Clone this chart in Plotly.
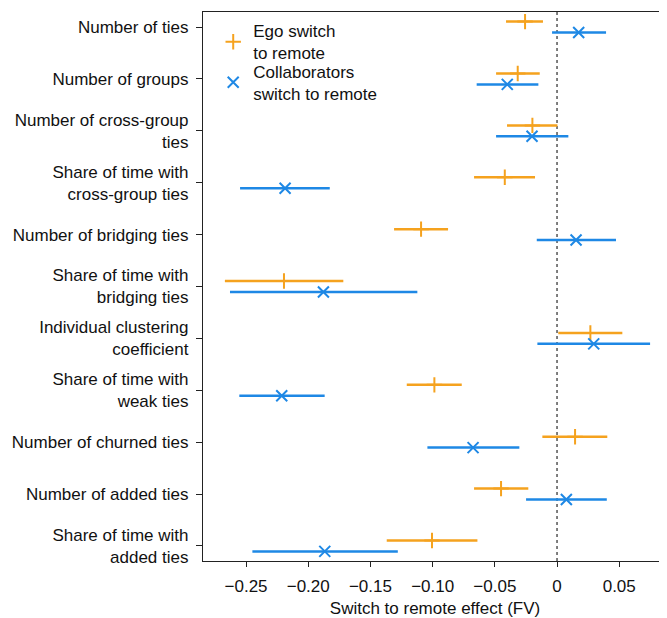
import plotly.graph_objects as go

categories = [
    "Number of ties",
    "Number of groups",
    "Number of cross-group<br>ties",
    "Share of time with<br>cross-group ties",
    "Number of bridging ties",
    "Share of time with<br>bridging ties",
    "Individual clustering<br>coefficient",
    "Share of time with<br>weak ties",
    "Number of churned ties",
    "Number of added ties",
    "Share of time with<br>added ties",
]

ego_est = [-0.0257, -0.0316, -0.0198, -0.0420, -0.1093, -0.2195, 0.0268, -0.0986, 0.0145, -0.0450, -0.1005]
ego_low = [-0.0410, -0.0490, -0.0402, -0.0667, -0.1310, -0.2670, 0.0010, -0.1208, -0.0118, -0.0667, -0.1369]
ego_high = [-0.0113, -0.0139, 0.0003, -0.0177, -0.0876, -0.1718, 0.0525, -0.0766, 0.0404, -0.0231, -0.0640]

col_est = [0.0174, -0.0400, -0.0201, -0.2186, 0.0153, -0.1878, 0.0295, -0.2213, -0.0675, 0.0075, -0.1867]
col_low = [-0.0040, -0.0646, -0.0490, -0.2548, -0.0163, -0.2629, -0.0158, -0.2554, -0.1042, -0.0249, -0.2449]
col_high = [0.0394, -0.0150, 0.0091, -0.1827, 0.0474, -0.1123, 0.0748, -0.1868, -0.0303, 0.0400, -0.1280]

x_tickvals = [-0.25, -0.20, -0.15, -0.10, -0.05, 0, 0.05]
x_ticktext = ["\u22120.25", "\u22120.20", "\u22120.15", "\u22120.10", "\u22120.05", "0", "0.05"]

ORANGE = "#F5A21E"
BLUE = "#1E88E5"
FONT = "Liberation Sans, Arial, sans-serif"

idx = list(range(len(categories)))
off = 0.105

fig = go.Figure()
fig.add_trace(go.Scatter(
    x=ego_est, y=[i - off for i in idx], mode="markers",
    name="Ego switch<br>to remote", legend="legend",
    marker=dict(symbol="cross-thin", size=11, color=ORANGE, line=dict(color=ORANGE, width=2)),
    error_x=dict(type="data", symmetric=False,
                 array=[h - e for h, e in zip(ego_high, ego_est)],
                 arrayminus=[e - l for e, l in zip(ego_est, ego_low)],
                 color=ORANGE, thickness=2.5, width=0),
))
fig.add_trace(go.Scatter(
    x=col_est, y=[i + off for i in idx], mode="markers",
    name="Collaborators<br>switch to remote", legend="legend2",
    marker=dict(symbol="x-thin", size=11, color=BLUE, line=dict(color=BLUE, width=2)),
    error_x=dict(type="data", symmetric=False,
                 array=[h - e for h, e in zip(col_high, col_est)],
                 arrayminus=[e - l for e, l in zip(col_est, col_low)],
                 color=BLUE, thickness=2.5, width=0),
))

fig.add_shape(type="line", xref="x", yref="paper", x0=0, x1=0, y0=0, y1=1,
              line=dict(color="#555555", width=1.5, dash="dot"), layer="below")

legend_common = dict(xanchor="left", yanchor="top", bgcolor="rgba(0,0,0,0)", font=dict(size=17))

# page body has an 8px default margin; compensate so the plot lands where the reference has it
fig.update_layout(
    width=659, height=610,
    margin=dict(l=195, r=0, t=4, b=54),
    paper_bgcolor="white", plot_bgcolor="white",
    font=dict(family=FONT, size=17, color="#111111"),
    showlegend=True,
    legend=dict(x=0.022, y=0.998, **legend_common),
    legend2=dict(x=0.022, y=0.924, **legend_common),
    xaxis=dict(range=[-0.2846, 0.0884], tickvals=x_tickvals, ticktext=x_ticktext,
               showgrid=False, zeroline=False, showline=True, linecolor="#222222",
               linewidth=1.2, mirror=True, ticks="outside", ticklen=5, tickcolor="#222222",
               ticklabelstandoff=4,
               title=dict(text="Switch to remote effect (FV)", font=dict(size=17), standoff=11)),
    yaxis=dict(range=[10.29, -0.29], tickvals=idx, ticktext=categories,
               showgrid=False, zeroline=False, showline=True, linecolor="#222222",
               linewidth=1.2, ticks="outside", ticklen=6, tickcolor="#222222",
               ticklabelstandoff=4),
)

fig.write_html("out.html")
